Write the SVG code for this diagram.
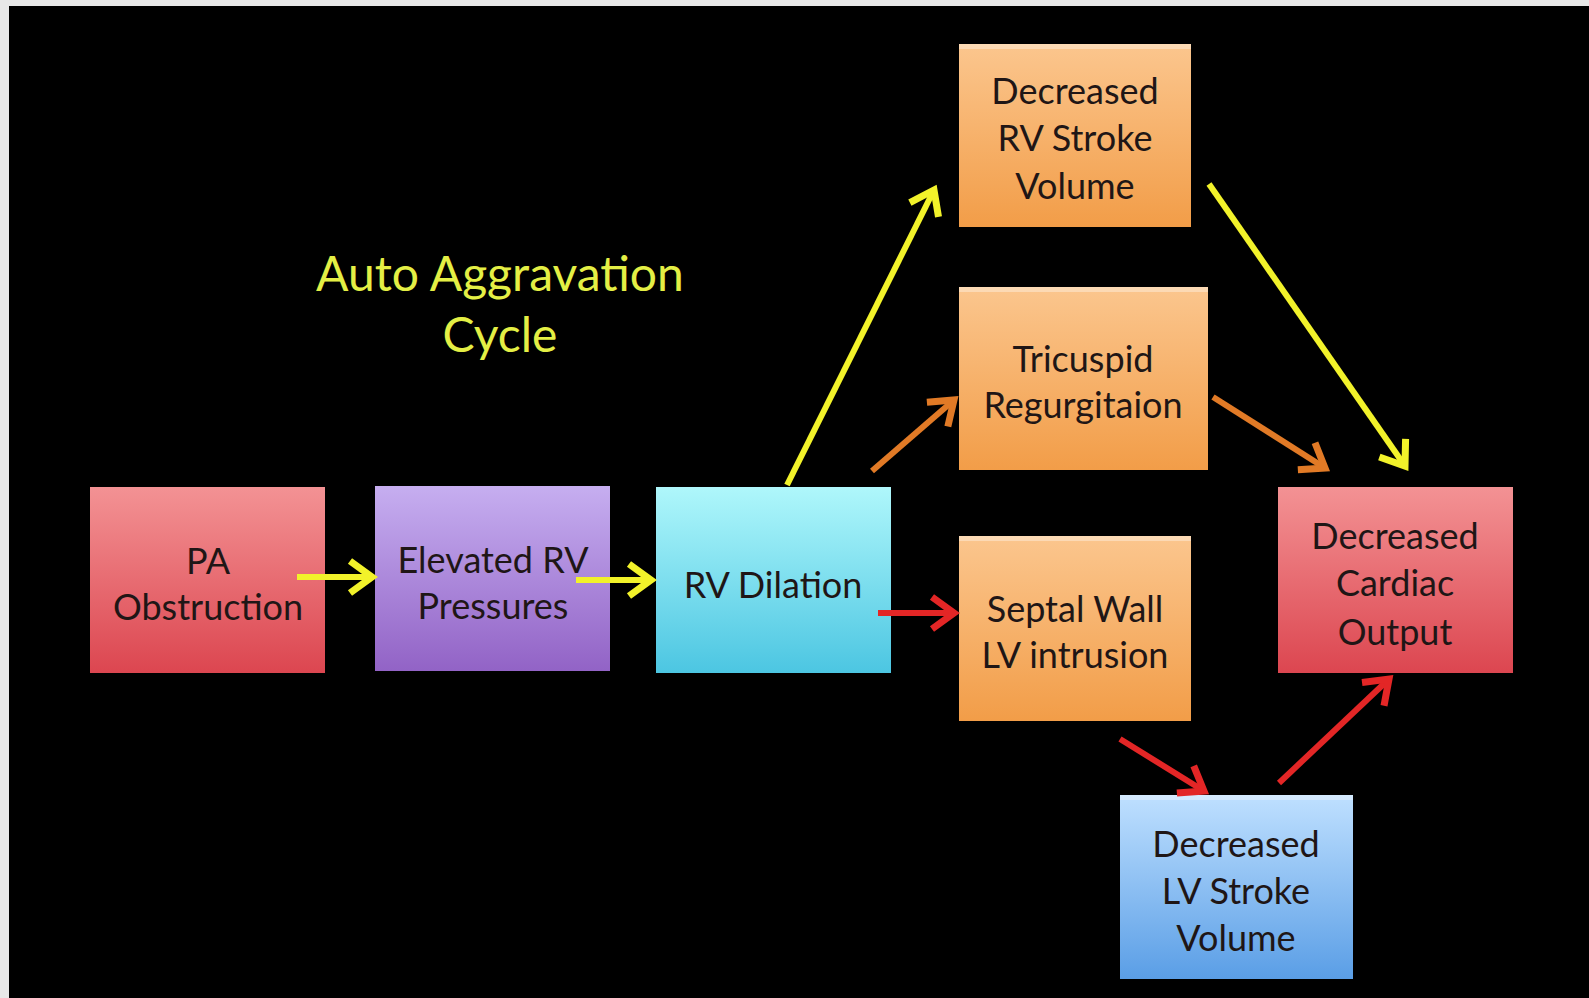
<svg xmlns="http://www.w3.org/2000/svg" width="1589" height="998" viewBox="0 0 1589 998">
<defs>
<style>
.t{font-family:Lato,"Open Sans","Liberation Sans",sans-serif;font-size:36px;fill:#1f1616;text-anchor:middle}
.title{font-family:Lato,"Open Sans","Liberation Sans",sans-serif;font-size:48px;fill:#e4ef45;text-anchor:middle}
.c{fill:none;stroke-width:6;stroke-linecap:butt}
.y{stroke:#f2f22a}
.o{stroke:#e17a26}
.r{stroke:#e32626}
.hl{fill:#ffffff;opacity:0.35}
</style>
<linearGradient id="gRed" x1="0" y1="0" x2="0" y2="1"><stop offset="0" stop-color="#f39294"/><stop offset="1" stop-color="#dc4650"/></linearGradient>
<linearGradient id="gPur" x1="0" y1="0" x2="0" y2="1"><stop offset="0" stop-color="#c6aef0"/><stop offset="1" stop-color="#9263c6"/></linearGradient>
<linearGradient id="gCyan" x1="0" y1="0" x2="0" y2="1"><stop offset="0" stop-color="#aff7fb"/><stop offset="1" stop-color="#4cc6e2"/></linearGradient>
<linearGradient id="gOr" x1="0" y1="0" x2="0" y2="1"><stop offset="0" stop-color="#fbc68e"/><stop offset="1" stop-color="#f29d48"/></linearGradient>
<linearGradient id="gBlue" x1="0" y1="0" x2="0" y2="1"><stop offset="0" stop-color="#bfe0ff"/><stop offset="1" stop-color="#5a9ee6"/></linearGradient>
<marker id="mY" markerUnits="userSpaceOnUse" markerWidth="44" markerHeight="44" viewBox="0 0 44 44" refX="32" refY="22" orient="auto"><path d="M10,6 L32,22 L10,38" fill="none" stroke="#f2f22a" stroke-width="7"/></marker>
<marker id="mO" markerUnits="userSpaceOnUse" markerWidth="44" markerHeight="44" viewBox="0 0 44 44" refX="32" refY="22" orient="auto"><path d="M10,6 L32,22 L10,38" fill="none" stroke="#e17a26" stroke-width="7"/></marker>
<marker id="mR" markerUnits="userSpaceOnUse" markerWidth="44" markerHeight="44" viewBox="0 0 44 44" refX="32" refY="22" orient="auto"><path d="M10,6 L32,22 L10,38" fill="none" stroke="#e32626" stroke-width="7"/></marker>
</defs>
<rect x="0" y="0" width="1589" height="998" fill="#e8e8e8"/>
<rect x="9" y="6" width="1580" height="992" fill="#000000"/>

<g id="title">
<text class="title" x="500" y="291">Auto Aggravation</text>
<text class="title" x="500" y="352">Cycle</text>
</g>

<g id="n-pa">
<rect x="90" y="487" width="235" height="186" fill="url(#gRed)"/>
<text class="t" x="208" y="574">PA</text>
<text class="t" x="208" y="620">Obstruction</text>
</g>
<g id="n-elev">
<rect x="375" y="486" width="235" height="185" fill="url(#gPur)"/>
<text class="t" x="493" y="573">Elevated RV</text>
<text class="t" x="493" y="619">Pressures</text>
</g>
<g id="n-dil">
<rect x="656" y="487" width="235" height="186" fill="url(#gCyan)"/>
<text class="t" x="773" y="598">RV Dilation</text>
</g>
<g id="n-rvsv">
<rect x="959" y="44" width="232" height="183" fill="url(#gOr)"/>
<rect class="hl" x="959" y="44" width="232" height="5"/>
<text class="t" x="1075" y="104">Decreased</text>
<text class="t" x="1075" y="151">RV Stroke</text>
<text class="t" x="1075" y="199">Volume</text>
</g>
<g id="n-tri">
<rect x="959" y="287" width="249" height="183" fill="url(#gOr)"/>
<rect class="hl" x="959" y="287" width="249" height="5"/>
<text class="t" x="1083" y="372">Tricuspid</text>
<text class="t" x="1083" y="418">Regurgitaion</text>
</g>
<g id="n-sep">
<rect x="959" y="536" width="232" height="185" fill="url(#gOr)"/>
<rect class="hl" x="959" y="536" width="232" height="5"/>
<text class="t" x="1075" y="622">Septal Wall</text>
<text class="t" x="1075" y="668">LV intrusion</text>
</g>
<g id="n-co">
<rect x="1278" y="487" width="235" height="186" fill="url(#gRed)"/>
<text class="t" x="1395" y="549">Decreased</text>
<text class="t" x="1395" y="596">Cardiac</text>
<text class="t" x="1395" y="645">Output</text>
</g>
<g id="n-lvsv">
<rect x="1120" y="795" width="233" height="184" fill="url(#gBlue)"/>
<rect class="hl" x="1120" y="795" width="233" height="5"/>
<text class="t" x="1236" y="857">Decreased</text>
<text class="t" x="1236" y="904">LV Stroke</text>
<text class="t" x="1236" y="951">Volume</text>
</g>

<g id="connectors">
<line class="c y" x1="297" y1="577" x2="372" y2="577" marker-end="url(#mY)"/>
<line class="c y" x1="576" y1="580" x2="651" y2="580" marker-end="url(#mY)"/>
<line class="c y" x1="787" y1="485" x2="934" y2="190" marker-end="url(#mY)"/>
<line class="c o" x1="872" y1="471" x2="954" y2="400" marker-end="url(#mO)"/>
<line class="c r" x1="878" y1="613" x2="954" y2="613" marker-end="url(#mR)"/>
<line class="c y" x1="1209" y1="184" x2="1405" y2="466" marker-end="url(#mY)"/>
<line class="c o" x1="1213" y1="397" x2="1325" y2="468" marker-end="url(#mO)"/>
<line class="c r" x1="1120" y1="739" x2="1204" y2="791" marker-end="url(#mR)"/>
<line class="c r" x1="1279" y1="783" x2="1389" y2="679" marker-end="url(#mR)"/>
</g>
</svg>
